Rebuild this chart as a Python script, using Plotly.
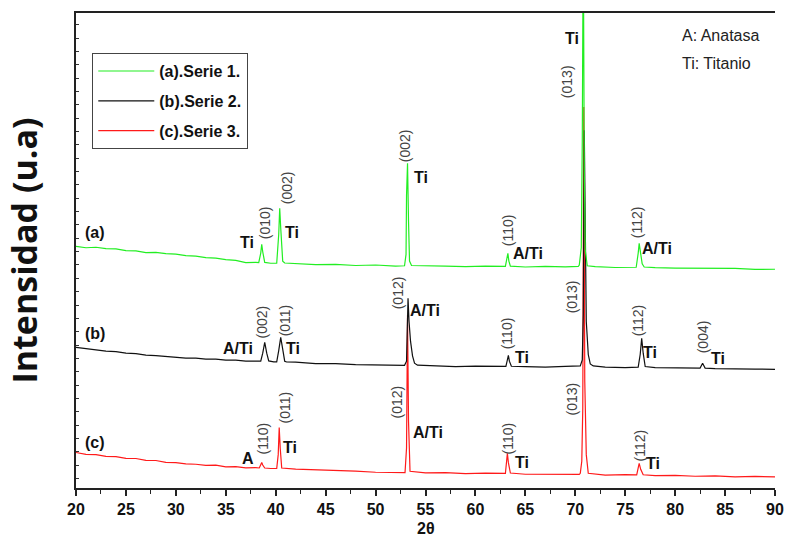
import plotly.graph_objects as go

# ---------------------------------------------------------------
# XRD patterns (2θ in degrees, intensity in arbitrary units, already
# stacked with a vertical offset per sample)
# ---------------------------------------------------------------
two_theta_a = [20, 21, 22, 23, 24, 25, 26, 27, 28, 29, 30, 31, 32, 33, 34, 35, 36, 37, 38,
               38.3, 38.5, 38.6, 38.7, 38.9, 39.5,
               40.1, 40.3, 40.4, 40.5, 40.7, 40.9,
               42, 44, 46, 48, 50, 52,
               52.9, 53.05, 53.1, 53.2, 53.3, 53.4, 53.6,
               55, 57, 59, 61,
               63.0, 63.15, 63.25, 63.35, 63.5,
               65, 67, 69, 70.3,
               70.4, 70.6, 70.7, 70.8, 70.9, 71.0, 71.2,
               72, 74,
               76.1, 76.3, 76.4, 76.5, 76.7, 76.9,
               78, 80, 82, 84, 86, 88, 90]
intensity_a = [1811, 1800, 1804, 1793, 1792, 1779, 1776, 1764, 1766, 1756, 1753, 1741, 1738, 1726, 1723, 1711, 1705, 1689, 1690,
               1688, 1760, 1826, 1770, 1690, 1684,
               1684, 1900, 2096, 1950, 1700, 1686,
               1682, 1674, 1676, 1667, 1671, 1663,
               1665, 1750, 2194, 2434, 2000, 1700, 1667,
               1663, 1662, 1659, 1663,
               1661, 1720, 1759, 1700, 1662,
               1656, 1660, 1657, 1661,
               1670, 1800, 2600, 4200, 2400, 1780, 1665,
               1659, 1652,
               1654, 1760, 1834, 1780, 1680, 1656,
               1651, 1648, 1647, 1644, 1645, 1638, 1639]

two_theta_b = [20, 21, 22, 23, 24, 25, 26, 27, 28, 29, 30, 31, 32, 33, 34, 35, 36, 37, 38,
               38.5, 38.7, 38.9, 39.1, 39.3, 39.8,
               40.1, 40.3, 40.5, 40.7, 40.9, 41.1,
               42, 44, 46, 48, 50, 52,
               52.9, 53.1, 53.2, 53.25, 53.35, 53.5, 53.7, 53.9, 54.2,
               56, 58, 60, 62,
               63.05, 63.2, 63.3, 63.4, 63.6,
               65, 67, 69, 70.4,
               70.5, 70.7, 70.8, 70.9, 71.0, 71.1, 71.3, 71.5, 71.8,
               73, 75,
               76.3, 76.5, 76.65, 76.8, 77.0,
               78, 80, 82,
               82.5, 82.75, 83.0,
               84, 86, 88, 90]
intensity_b = [1054, 1043, 1037, 1026, 1022, 1011, 1007, 996, 992, 984, 981, 973, 973, 966, 966, 958, 958, 951, 950,
               950, 1010, 1091, 1010, 952, 945,
               945, 1030, 1129, 1040, 950, 944,
               943, 932, 932, 924, 921, 917,
               919, 950, 1300, 1421, 1250, 1100, 990, 935, 920,
               917, 909, 913, 909,
               911, 960, 994, 950, 912,
               910, 906, 912, 910,
               915, 960, 1300, 2681, 1600, 1250, 1000, 930, 915,
               906, 902,
               905, 1000, 1121, 1010, 910,
               902, 898, 897,
               898, 934, 898,
               894, 895, 891, 889]

two_theta_c = [20, 21, 22, 23, 24, 25, 26, 27, 28, 29, 30, 31, 32, 33, 34, 35, 36, 37, 38,
               38.35, 38.5, 38.6, 38.7, 38.9, 39.5,
               40.1, 40.25, 40.35, 40.45, 40.6,
               42, 44, 46, 48, 50, 52,
               52.95, 53.1, 53.2, 53.3, 53.45,
               55, 57, 59, 61,
               63.0, 63.15, 63.2, 63.3, 63.5,
               65, 67, 69, 70.4,
               70.5, 70.65, 70.75, 70.85, 70.95, 71.1, 71.3,
               73, 75,
               76.15, 76.3, 76.4, 76.55, 76.8,
               78, 80, 82, 84, 86, 88, 90]
intensity_c = [266, 252, 250, 237, 235, 222, 221, 207, 206, 192, 190, 181, 178, 170, 171, 158, 160, 151, 152,
               150, 175, 191, 172, 150, 146,
               146, 250, 454, 300, 150,
               141, 137, 129, 126, 118, 118,
               116, 300, 1294, 500, 125,
               114, 115, 107, 111,
               109, 200, 259, 190, 112,
               103, 103, 99, 102,
               110, 200, 600, 2854, 800, 250, 110,
               96, 100,
               98, 150, 184, 140, 99,
               92, 95, 88, 91, 84, 87, 83]

series_names = ["(a).Serie 1.", "(b).Serie 2.", "(c).Serie 3."]
series_colors = ["#22ee22", "#111111", "#ff1a1a"]

# Peak assignments: (text, 2θ, intensity)
phase_labels = [
    ("(a)", 21.9, 1916), ("Ti", 37.1, 1841), ("Ti", 41.6, 1916), ("Ti", 54.55, 2329),
    ("A/Ti", 65.3, 1759), ("Ti", 69.65, 3371), ("A/Ti", 78.2, 1796),
    ("(b)", 21.9, 1159), ("A/Ti", 36.2, 1046), ("Ti", 41.7, 1046), ("A/Ti", 54.95, 1331),
    ("Ti", 64.7, 979), ("Ti", 77.5, 1016), ("Ti", 84.3, 971),
    ("(c)", 21.9, 341), ("A", 37.2, 221), ("Ti", 41.4, 304), ("A/Ti", 55.25, 416),
    ("Ti", 64.7, 191), ("Ti", 77.8, 184),
]
hkl_labels = [
    ("(010)", 38.93, 1984), ("(002)", 41.13, 2246), ("(002)", 52.95, 2561),
    ("(110)", 63.26, 1931), ("(013)", 69.17, 3041), ("(112)", 76.18, 1991),
    ("(002)", 38.63, 1241), ("(011)", 40.93, 1256), ("(012)", 52.25, 1459),
    ("(110)", 63.16, 1159), ("(013)", 69.67, 1436), ("(112)", 76.28, 1256),
    ("(004)", 82.79, 1129),
    ("(110)", 38.73, 371), ("(011)", 40.93, 604), ("(012)", 52.15, 641),
    ("(110)", 63.26, 371), ("(013)", 69.67, 671), ("(112)", 76.48, 319),
]
key_lines = [("A: Anatasa", 80.5, 3394), ("Ti: Titanio", 80.5, 3184)]

x_ticks = [20, 25, 30, 35, 40, 45, 50, 55, 60, 65, 70, 75, 80, 85, 90]

FONT = "Liberation Sans, Arial, sans-serif"

fig = go.Figure()

# red drawn first, green last (on top); legend ranks keep a, b, c order
for tt, inten, name, col, grp, rank in [
    (two_theta_c, intensity_c, series_names[2], series_colors[2], "c", 3),
    (two_theta_b, intensity_b, series_names[1], series_colors[1], "b", 2),
    (two_theta_a, intensity_a, series_names[0], series_colors[0], "a", 1),
]:
    fig.add_trace(go.Scatter(
        x=tt, y=inten, mode="lines", name=name, legendgroup=grp, legendrank=rank,
        line=dict(color=col, width=1.2),
    ))

annotations = []
for txt, x, y in phase_labels:
    annotations.append(dict(
        x=x, y=y, xref="x", yref="y", text=txt, showarrow=False,
        font=dict(family=FONT, size=16, color="#111", weight="bold"),
    ))
for txt, x, y in hkl_labels:
    annotations.append(dict(
        x=x, y=y, xref="x", yref="y", text=txt, showarrow=False, textangle=-90,
        font=dict(family=FONT, size=14, color="#444"),
    ))
for txt, x, y in key_lines:
    annotations.append(dict(
        x=x, y=y, xref="x", yref="y", text=txt, showarrow=False, xanchor="left",
        font=dict(family=FONT, size=16, color="#222"),
    ))
# x-axis title placed under the tick labels
annotations.append(dict(
    x=0.5, y=-0.086, xref="paper", yref="paper", text="2θ", showarrow=False,
    xanchor="center", yanchor="middle",
    font=dict(family=FONT, size=16, color="#111", weight="bold"),
))

fig.update_layout(
    width=785, height=540,
    margin=dict(l=76, r=10, t=13, b=52),
    plot_bgcolor="white", paper_bgcolor="white",
    showlegend=True,
    legend=dict(
        x=0.023, y=0.916, xanchor="left", yanchor="top",
        traceorder="grouped", tracegroupgap=6, itemwidth=56,
        bgcolor="white", bordercolor="#444", borderwidth=1.2,
        font=dict(family=FONT, size=16, color="#111", weight="bold"),
    ),
    annotations=annotations,
    xaxis=dict(
        range=[20, 90], tickvals=x_ticks, automargin=False,
        ticks="outside", ticklen=6, tickwidth=1.5, tickcolor="#222",
        minor=dict(dtick=2.5, tick0=20, ticks="outside", ticklen=4, tickwidth=1.2, tickcolor="#222"),
        showline=True, linecolor="#222", linewidth=1.8, mirror=True,
        showgrid=False, zeroline=False,
        tickfont=dict(family=FONT, size=16, color="#111", weight="bold"),
    ),
    yaxis=dict(
        range=[0, 3559], tick0=71, dtick=100, automargin=False,
        ticks="inside", ticklen=3, tickwidth=1, tickcolor="#333",
        showticklabels=False,
        showline=True, linecolor="#222", linewidth=1.8,
        showgrid=False, zeroline=False,
        title=dict(text="Intensidad (u.a)", standoff=26,
                   font=dict(family="Open Sans, sans-serif", size=34, color="#111", weight="bold")),
    ),
    yaxis2=dict(
        overlaying="y", side="right", range=[0, 3559], tick0=71, dtick=100, automargin=False,
        ticks="outside", ticklen=3, tickwidth=1, tickcolor="#333",
        showticklabels=False, showline=True, linecolor="#222", linewidth=1.8,
        showgrid=False, zeroline=False,
    ),
)

fig.write_html("out.html")
